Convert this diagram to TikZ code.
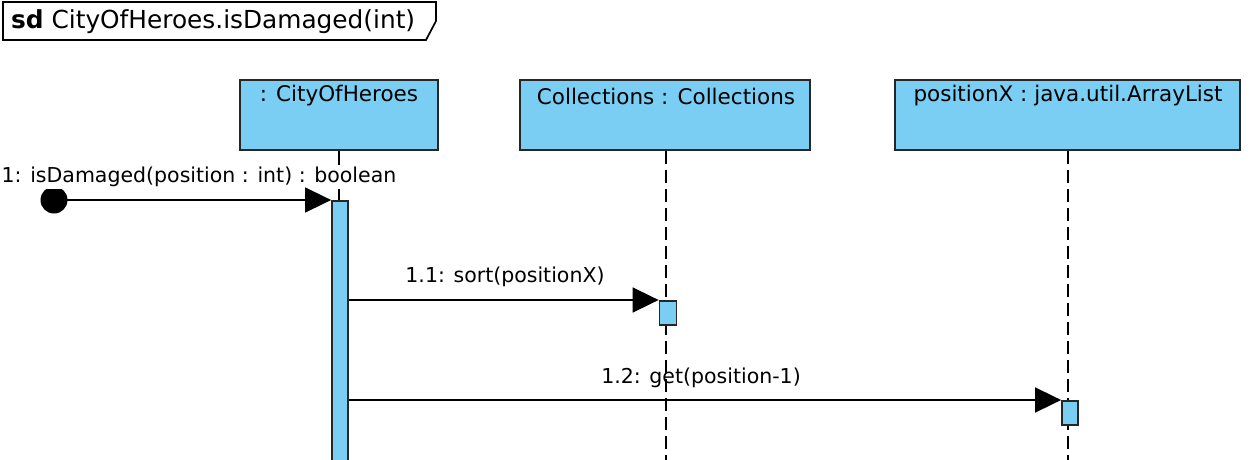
\documentclass[tikz,border=0pt]{standalone}
\usepackage{fontspec}
\setmainfont{DejaVu Sans}
\usetikzlibrary{arrows.meta}
\definecolor{lb}{RGB}{122,206,244}
\begin{document}
\begin{tikzpicture}[x=1pt,y=-1pt,
  lifebox/.style={draw=black!85,line width=2pt,fill=lb,minimum width=#1,minimum height=70pt,inner sep=0pt},
  act/.style={draw=black!85,line width=1.8pt,fill=lb,minimum width=16pt,inner sep=0pt},
  lbl/.style={font=\fontsize{20.5}{24}\selectfont,inner sep=1pt},
  hlbl/.style={font=\fontsize{21.5}{25}\selectfont,inner sep=1pt},
  msg/.style={line width=1.7pt,-{Triangle[length=26pt,width=25pt]}},
  lifeline/.style={line width=1.7pt,dash pattern=on 13pt off 6pt}]
\useasboundingbox (0,0) rectangle (1252,460);
% frame label
\draw[line width=1.7pt] (3,2) -- (436,2) -- (436,21) -- (426,40) -- (3,40) -- cycle;
\node[anchor=west,inner sep=0pt,font=\fontsize{24.8}{28}\selectfont] (title) at (11,22) {\textbf{sd} CityOfHeroes.isDamaged(int)};
% lifeline heads
\node[lifebox=198pt] (h1) at (339,115) {};
\node[lifebox=290pt] (h2) at (665,115) {};
\node[lifebox=345pt] (h3) at (1067.5,115) {};
\node[hlbl] (t1) at (339,96) {: CityOfHeroes};
\node[hlbl] (t2) at (666,96) {Collections : Collections};
\node[hlbl] (t3) at (1068,96) {positionX : java.util.ArrayList};
% lifelines
\coordinate (e2) at (666,462);
\coordinate (e3) at (1068,462);
\draw[lifeline] (h2.south -| e2) -- (e2);
\draw[lifeline] (h3.south -| e3) -- (e3);
% activations
\node[act,minimum height=262pt,anchor=north] (a1) at (340,200) {};
\node[act,minimum width=17pt,minimum height=24pt,anchor=north] (a2) at (668,300) {};
\node[act,minimum height=24pt,anchor=north] (a3) at (1070,400) {};
\draw[line width=1.7pt] (h1.south) -- (h1.south |- a1.north);
% found message
\coordinate (start) at (54,200);
\begin{scope}
  \clip (30,189.5) rectangle (80,220);
  \fill (start) circle (13.5pt);
\end{scope}
\node[lbl,fill=white,inner sep=2pt] (l1) at (199,177) {1: isDamaged(position : int) : boolean};
\draw[msg] (start |- a1.north) -- (a1.north west);
% messages
\draw[msg] (a1.east |- a2.north) -- (a2.north west);
\node[lbl] (l11) at (505,277) {1.1: sort(positionX)};
\draw[msg] (a1.east |- a3.north) -- (a3.north west);
\node[lbl] (l12) at (701,378) {1.2: get(position-1)};
\end{tikzpicture}
\end{document}
